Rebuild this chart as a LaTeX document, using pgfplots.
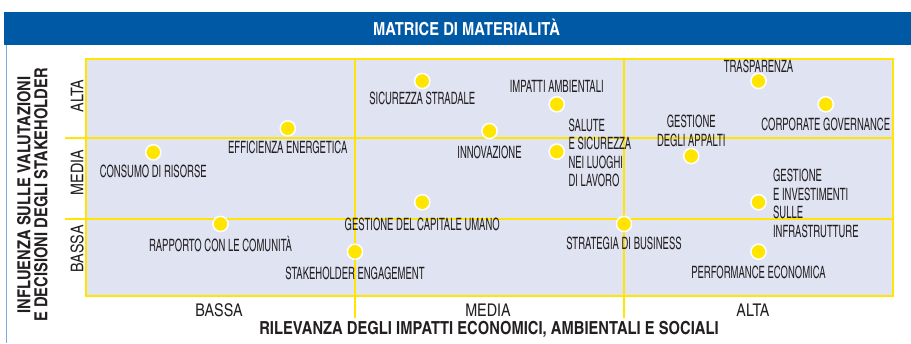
\documentclass[border=0pt]{standalone}
\usepackage{fontspec}
\setmainfont{texgyreheroscn-regular.otf}[BoldFont=texgyreheroscn-bold.otf]
\newfontfamily\lab{texgyreheroscn-regular.otf}[FakeStretch=0.68]
\usepackage{pgfplots}
\pgfplotsset{compat=1.18}
\definecolor{titleblue}{HTML}{0059A5}
\definecolor{frameblue}{HTML}{7FA7D8}
\definecolor{matyellow}{HTML}{FFE500}
\definecolor{panel}{HTML}{E0E3F1}
\definecolor{txt}{HTML}{231F20}
\tikzset{
  lbl/.style={font=\lab\fontsize{17}{18.5}\selectfont, text=txt, inner sep=0pt},
  one/.style={lbl, text height=12.2pt, text depth=0pt},
  tick/.style={font=\fontsize{17.5}{19}\selectfont, text=txt, inner sep=0pt, text height=12.5pt, text depth=0pt},
}
\begin{document}
\begin{tikzpicture}[x=1pt,y=1pt]
\useasboundingbox (0,0) rectangle (911,343);
\fill[titleblue] (3.5,298) rectangle (911,331);
\node[text=white, font=\bfseries\fontsize{18}{20}\selectfont, inner sep=0pt, text height=13pt, text depth=0pt] at (466.5,314) {MATRICE DI MATERIALITÀ};
\draw[frameblue, line width=1.5pt] (6.7,0) -- (6.7,298);

\begin{axis}[
  at={(86pt,47pt)}, anchor=south west,
  scale only axis, width=807pt, height=236.7pt,
  xmin=0, xmax=12, ymin=0, ymax=3,
  axis background/.style={fill=panel},
  axis line style={matyellow, line width=2pt},
  ticks=none, clip=false,
]
\draw[matyellow, line width=2pt] (axis cs:4,-0.28) -- (axis cs:4,3);
\draw[matyellow, line width=2pt] (axis cs:8,-0.28) -- (axis cs:8,3);
\draw[matyellow, line width=2pt] (axis cs:-0.31,0.97) -- (axis cs:12,0.97);
\draw[matyellow, line width=2pt] (axis cs:-0.31,2.0) -- (axis cs:12,2.0);

\addplot[only marks, mark=*, mark size=7.6pt,
  mark options={fill=matyellow, draw=white, line width=1.5pt}] coordinates {
  (1,1.821) (3,2.125) (2,0.913) (4,0.561)
  (5,2.725) (7,2.43) (6,2.091) (7,1.829) (5,1.188) (8,0.913)
  (10,2.725) (11,2.43) (9,1.774) (10,1.188) (10,0.561)
};

\node[one, yshift=-19.4pt] at (axis cs:1,1.821) {CONSUMO DI RISORSE};
\node[one, yshift=-19.5pt] at (axis cs:3,2.125) {EFFICIENZA ENERGETICA};
\node[one, yshift=-21pt] at (axis cs:2,0.913) {RAPPORTO CON LE COMUNITÀ};
\node[one, yshift=-21.3pt] at (axis cs:4,0.561) {STAKEHOLDER ENGAGEMENT};
\node[one, yshift=-17.8pt] at (axis cs:5,2.725) {SICUREZZA STRADALE};
\node[one, yshift=18.3pt] at (axis cs:7,2.43) {IMPATTI AMBIENTALI};
\node[one, yshift=-21pt] at (axis cs:6,2.091) {INNOVAZIONE};
\node[lbl, anchor=west, align=left, xshift=11.6pt, yshift=-1pt] at (axis cs:7,1.829) {SALUTE\\E SICUREZZA\\NEI LUOGHI\\DI LAVORO};
\node[one, yshift=-22pt] at (axis cs:5,1.188) {GESTIONE DEL CAPITALE UMANO};
\node[one, yshift=-19.7pt] at (axis cs:8,0.913) {STRATEGIA DI BUSINESS};
\node[one, yshift=14.7pt] at (axis cs:10,2.725) {TRASPARENZA};
\node[one, yshift=-20.4pt] at (axis cs:11,2.43) {CORPORATE GOVERNANCE};
\node[lbl, align=center, yshift=25pt] at (axis cs:9,1.774) {GESTIONE\\DEGLI APPALTI};
\node[lbl, anchor=west, align=left, xshift=14.4pt, yshift=-1pt] at (axis cs:10,1.188) {GESTIONE\\E INVESTIMENTI\\SULLE\\INFRASTRUTTURE};
\node[one, yshift=-20.5pt] at (axis cs:10,0.561) {PERFORMANCE ECONOMICA};
\end{axis}

\node[tick, rotate=90] at (77,247) {ALTA};
\node[tick, rotate=90] at (77,170.5) {MEDIA};
\node[tick, rotate=90] at (77,94) {BASSA};
\node[tick] at (219,32.7) {BASSA};
\node[tick] at (488,32.7) {MEDIA};
\node[tick] at (753,32.7) {ALTA};
\node[text=txt, font=\bfseries\fontsize{18}{20}\selectfont, inner sep=0pt, text height=13pt, text depth=0pt] at (489,14.6) {RILEVANZA DEGLI IMPATTI ECONOMICI, AMBIENTALI E SOCIALI};
\node[text=txt, rotate=90, align=center, font=\bfseries\fontsize{18}{17}\selectfont, inner sep=0pt] at (32.5,148) {INFLUENZA SULLE VALUTAZIONI\\E DECISIONI DEGLI STAKEHOLDER};
\end{tikzpicture}
\end{document}
